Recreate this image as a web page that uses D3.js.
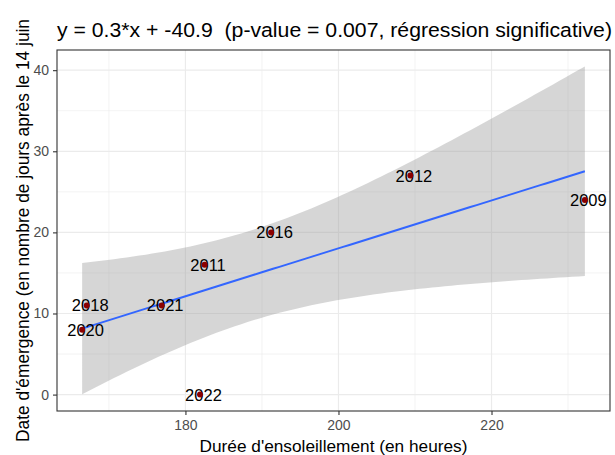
<!DOCTYPE html>
<html>
<head>
<meta charset="utf-8">
<script src="https://cdn.jsdelivr.net/npm/d3@7"></script>
<style>
  body { margin: 0; background: #fff; }
  svg { display: block; font-family: Arial, "Liberation Sans", sans-serif; }
</style>
</head>
<body>
<svg id="chart"></svg>
<script>
// observations: one label per year
const years = ['2009', '2012', '2016', '2011', '2021', '2018', '2020', '2022'];
const sunHours = [232.2, 209.4, 191.2, 182.5, 176.9, 167.1, 166.5, 181.9];
const emergenceDays = [24, 27, 20, 16, 11, 11, 8, 0];

const xTicks = [180, 200, 220];
const xMinor = [170, 190, 210, 230];
const yTicks = [0, 10, 20, 30, 40];
const yMinor = [5, 15, 25, 35];

const titleText = 'y = 0.3*x + -40.9  (p-value = 0.007, régression significative)';
const xLabel = "Durée d'ensoleillement (en heures)";
const yLabel = "Date d'émergence (en nombre de jours après le 14 juin";

const width = 615, height = 455;
const margin = {top: 50, right: 5, bottom: 44, left: 57};
const innerW = width - margin.left - margin.right;
const innerH = height - margin.top - margin.bottom;

// stretch/squeeze a text to a given length
function fitTo(sel, len) {
  sel.attr('textLength', len).attr('lengthAdjust', 'spacingAndGlyphs');
}

const points = years.map((y, i) => ({year: y, x: sunHours[i], y: emergenceDays[i]}));

// linear model + 95% confidence band, like geom_smooth(method = "lm")
const n = points.length;
const mx = d3.mean(points, d => d.x), my = d3.mean(points, d => d.y);
const sxx = d3.sum(points, d => (d.x - mx) ** 2);
const sxy = d3.sum(points, d => (d.x - mx) * (d.y - my));
const slope = sxy / sxx, intercept = my - slope * mx;
const sse = d3.sum(points, d => (d.y - (intercept + slope * d.x)) ** 2);
const sigma = Math.sqrt(sse / (n - 2));
const tCrit = 2.446912; // qt(0.975, df = 6)

const [xMin, xMax] = d3.extent(points, d => d.x);
const band = d3.range(80).map(i => {
  const x = xMin + (xMax - xMin) * i / 79;
  const fit = intercept + slope * x;
  const se = sigma * Math.sqrt(1 / n + (x - mx) ** 2 / sxx);
  return {x: x, fit: fit, lo: fit - tCrit * se, hi: fit + tCrit * se};
});

// ggplot style 5% expansion
function expand([a, b]) { const p = (b - a) * 0.05; return [a - p, b + p]; }
const yExt = d3.extent(band.flatMap(d => [d.lo, d.hi]).concat(emergenceDays));

const svg = d3.select('#chart').attr('width', width).attr('height', height);
const chart = svg.append('g').attr('transform', `translate(${margin.left},${margin.top})`);

const xScale = d3.scaleLinear().domain(expand([xMin, xMax])).range([0, innerW]);
const yScale = d3.scaleLinear().domain(expand(yExt)).range([innerH, 0]);

// grid
chart.selectAll('.vminor').data(xMinor).join('line')
  .attr('x1', d => xScale(d)).attr('x2', d => xScale(d))
  .attr('y1', 0).attr('y2', innerH)
  .attr('stroke', '#ebebeb').attr('stroke-width', 0.6);
chart.selectAll('.hminor').data(yMinor).join('line')
  .attr('y1', d => yScale(d)).attr('y2', d => yScale(d))
  .attr('x1', 0).attr('x2', innerW)
  .attr('stroke', '#ebebeb').attr('stroke-width', 0.6);
chart.selectAll('.vmajor').data(xTicks).join('line')
  .attr('x1', d => xScale(d)).attr('x2', d => xScale(d))
  .attr('y1', 0).attr('y2', innerH)
  .attr('stroke', '#ebebeb').attr('stroke-width', 1.2);
chart.selectAll('.hmajor').data(yTicks).join('line')
  .attr('y1', d => yScale(d)).attr('y2', d => yScale(d))
  .attr('x1', 0).attr('x2', innerW)
  .attr('stroke', '#ebebeb').attr('stroke-width', 1.2);

// confidence band and fitted line
chart.append('path')
  .datum(band)
  .attr('d', d3.area().x(d => xScale(d.x)).y0(d => yScale(d.lo)).y1(d => yScale(d.hi)))
  .attr('fill', '#999999').attr('fill-opacity', 0.4);

chart.append('path')
  .datum(band)
  .attr('d', d3.line().x(d => xScale(d.x)).y(d => yScale(d.fit)))
  .attr('fill', 'none').attr('stroke', '#3366FF').attr('stroke-width', 2);

// year labels, then the dots on top
chart.selectAll('.lbl').data(points).join('text')
  .attr('x', d => xScale(d.x) + 3.5)
  .attr('y', d => yScale(d.y))
  .attr('dy', '0.36em')
  .attr('text-anchor', 'middle')
  .attr('font-size', 16.5)
  .attr('fill', '#000')
  .text(d => d.year);

chart.selectAll('circle').data(points).join('circle')
  .attr('cx', d => xScale(d.x))
  .attr('cy', d => yScale(d.y))
  .attr('r', 3)
  .attr('fill', '#8b0000');

// panel border
chart.append('rect')
  .attr('width', innerW).attr('height', innerH)
  .attr('fill', 'none').attr('stroke', '#333333').attr('stroke-width', 1.1);

// axes
const xAxisG = chart.append('g')
  .attr('transform', `translate(0,${innerH})`)
  .call(d3.axisBottom(xScale).tickValues(xTicks).tickSize(4).tickPadding(5));
const yAxisG = chart.append('g')
  .call(d3.axisLeft(yScale).tickValues(yTicks).tickSize(4).tickPadding(4));

[xAxisG, yAxisG].forEach(g => {
  g.select('.domain').remove();
  g.selectAll('.tick line').attr('stroke', '#333333').attr('stroke-width', 1.1);
  g.selectAll('.tick text').attr('fill', '#4d4d4d').attr('font-size', 14)
    .attr('font-family', 'Arial, "Liberation Sans", sans-serif');
});

// titles
const title = svg.append('text')
  .attr('x', margin.left).attr('y', 37)
  .attr('font-size', 20.5).attr('fill', '#000')
  .style('white-space', 'pre')
  .text(titleText);
fitTo(title, 555);

const xt = svg.append('text')
  .attr('x', margin.left + innerW / 2).attr('y', 452)
  .attr('text-anchor', 'middle')
  .attr('font-size', 17).attr('fill', '#000')
  .text(xLabel);
fitTo(xt, 268);

const yt = svg.append('text')
  .attr('transform', `translate(28.5,${margin.top + innerH / 2}) rotate(-90)`)
  .attr('text-anchor', 'middle')
  .attr('font-size', 17.5).attr('fill', '#000')
  .text(yLabel);
fitTo(yt, 423);
</script>
</body>
</html>
